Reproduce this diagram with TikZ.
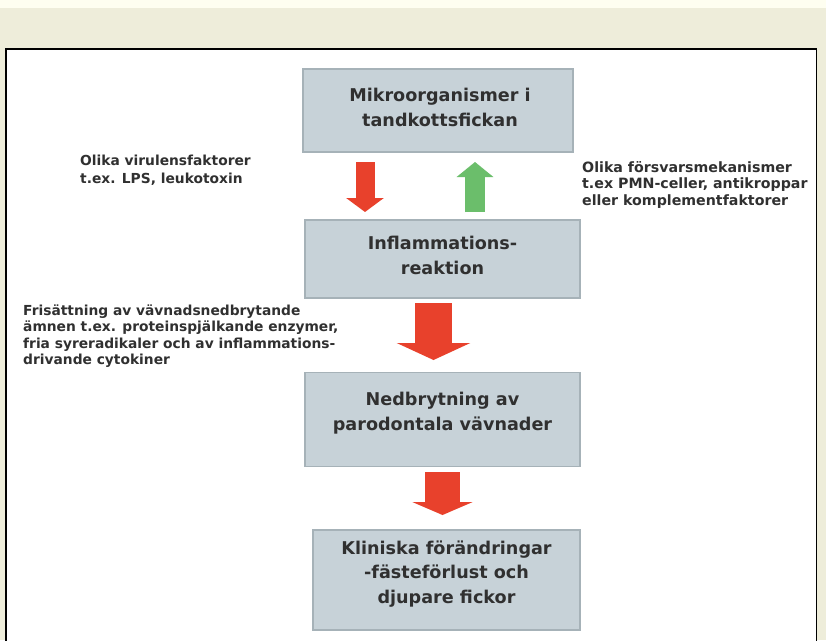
\documentclass[tikz,border=0pt]{standalone}
\usepackage{fontspec}
\setmainfont{DejaVu Sans}
\newfontfamily\dvfont{DejaVu Sans}
\usetikzlibrary{arrows.meta,calc}
\definecolor{bgbeige}{HTML}{EEEDDA}
\definecolor{topstrip}{HTML}{FEFEF0}
\definecolor{boxfill}{HTML}{C7D2D8}
\definecolor{boxedge}{HTML}{A6B2B8}
\definecolor{arrred}{HTML}{E8412C}
\definecolor{arrgreen}{HTML}{6BBE6B}
\definecolor{txtgray}{HTML}{303030}
\tikzset{
  x=1pt, y=-1pt,
  flowbox/.style={draw=boxedge, line width=1.2pt, fill=boxfill, rectangle, inner sep=0pt},
  boxtext/.style={align=center, font=\dvfont\bfseries\fontsize{17.6}{24.5}\selectfont, text=txtgray, inner sep=0pt, anchor=base},
  sidetext/.style={align=left, font=\dvfont\bfseries\fontsize{13.8}{17.5}\selectfont, text=txtgray, inner sep=0pt, anchor=base west},
  redarrow/.style={draw=arrred, line cap=butt},
  greenarrow/.style={draw=arrgreen, line cap=butt},
}
\begin{document}
\begin{tikzpicture}
% background
\fill[bgbeige] (0,0) rectangle (826,640);
\fill[topstrip] (0,0) rectangle (826,8);
\useasboundingbox (0,0) rectangle (826,640);
\fill[white] (6,49) rectangle (816.5,642);
\draw[black, line width=1.6pt] (6,645) -- (6,49) -- (816.5,49) -- (816.5,645);

% boxes
\node[flowbox, minimum width=270pt, minimum height=83pt] (b1) at (438,110.5) {};
\node[flowbox, minimum width=275pt, minimum height=78pt] (b2) at (442.5,259) {};
\node[flowbox, minimum width=275pt, minimum height=94pt] (b3) at (442.5,419.5) {};
\node[flowbox, minimum width=267pt, minimum height=100pt] (b4) at (446.5,580) {};

% box texts (anchor = baseline of last line)
\node[boxtext] (t1) at ($(b1.center)+(2,15.5)$) {Mikroorganismer i\\tandkottsfickan};
\node[boxtext] (t2) at ($(b2.center)+(0,15)$) {Inflammations-\\reaktion};
\node[boxtext] (t3) at ($(b3.center)+(0,10.5)$) {Nedbrytning av\\parodontala vävnader};
\node[boxtext] (t4) at ($(b4.center)+(0,23)$) {Kliniska förändringar\\-fästeförlust och\\djupare fickor};

% arrows
\coordinate (a1s) at (365,162);
\coordinate (a1e) at (365,212);
\draw[redarrow, line width=19pt, -{Triangle[width=37pt,length=14pt]}] (a1s) -- (a1e);

\coordinate (g1s) at (475,212);
\coordinate (g1e) at (475,162);
\draw[greenarrow, line width=20pt, -{Triangle[width=36pt,length=15pt]}] (g1s) -- (g1e);

\coordinate (a2s) at (433.5,303);
\coordinate (a2e) at (433.5,360);
\draw[redarrow, line width=37pt, -{Triangle[width=73pt,length=17pt]}] (a2s) -- (a2e);

\coordinate (a3s) at (442.5,472);
\coordinate (a3e) at (442.5,515);
\draw[redarrow, line width=35pt, -{Triangle[width=60pt,length=13pt]}] (a3s) -- (a3e);

% side texts (anchor = baseline of last line)
\node[sidetext] (s1) at (80,183) {Olika virulensfaktorer\\t.ex. LPS, leukotoxin};
\node[sidetext, font=\dvfont\bfseries\fontsize{14.2}{16.2}\selectfont] (s2) at (582,205) {Olika försvarsmekanismer\\t.ex PMN-celler, antikroppar\\eller komplementfaktorer};
\node[sidetext, font=\dvfont\bfseries\fontsize{13.8}{16.5}\selectfont] (s3) at (23,364.5) {Frisättning av vävnadsnedbrytande\\ämnen t.ex. proteinspjälkande enzymer,\\fria syreradikaler och av inflammations-\\drivande cytokiner};
\end{tikzpicture}
\end{document}
